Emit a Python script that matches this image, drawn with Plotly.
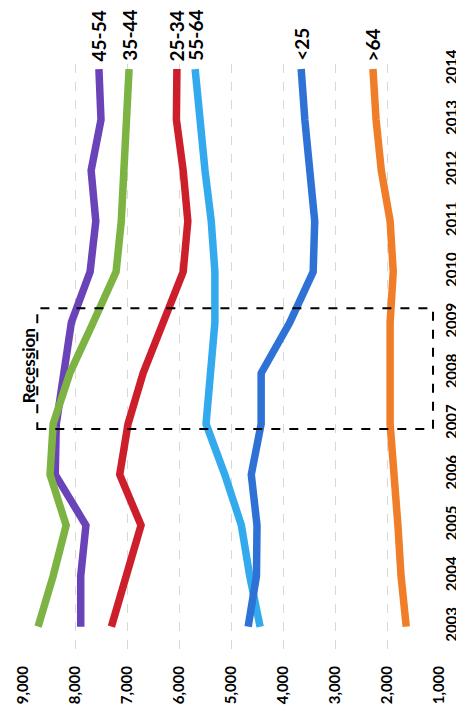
import plotly.graph_objects as go

years = list(range(2003, 2015))

age_groups = ['45-54', '35-44', '25-34', '55-64', '<25', '>64']
v_45_54 = [7890, 7890, 7790, 8380, 8360, 8200, 8070, 7710, 7600, 7690, 7500, 7540]
v_35_44 = [8710, 8420, 8170, 8480, 8420, 8100, 7650, 7210, 7110, 7060, 7020, 6960]
v_25_34 = [7300, 7020, 6730, 7140, 6980, 6690, 6300, 5920, 5830, 5920, 6050, 6040]
v_55_64 = [4440, 4640, 4800, 5120, 5480, 5380, 5310, 5310, 5380, 5500, 5600, 5690]
v_under25 = [4670, 4510, 4500, 4610, 4420, 4420, 3870, 3420, 3390, 3500, 3580, 3650]
v_over64 = [1630, 1730, 1790, 1880, 1940, 1940, 1940, 1880, 1940, 2110, 2210, 2270]

colors = ['#6a43b8', '#7cb342', '#cc1f2b', '#33aaee', '#2e72d6', '#f07e28']
value_ticks = [9000, 8000, 7000, 6000, 5000, 4000, 3000, 2000, 1000]

series = [v_45_54, v_35_44, v_25_34, v_55_64, v_under25, v_over64]
font_family = 'Lato, Open Sans, sans-serif'

fig = go.Figure()

# chart is drawn rotated: values run across, years run upward
for name, vals, col in zip(age_groups, series, colors):
    fig.add_trace(go.Scatter(x=vals, y=years, mode='lines', name=name,
                             line=dict(color=col, width=7.5)))
    fig.add_annotation(x=vals[-1], y=years[-1], text='<b>' + name + '</b>',
                       textangle=-90, showarrow=False, yanchor='bottom',
                       yshift=6, font=dict(size=19, color='black', family=font_family))

# recession box
fig.add_shape(type='rect', x0=8725, x1=1115, y0=2006.9, y1=2009.28,
              line=dict(color='black', width=2, dash='dash'))
fig.add_annotation(x=8890, y=2008.15, text='<b>Recession</b>', textangle=-90,
                   showarrow=False, font=dict(size=17, color='black', family=font_family))

fig.update_layout(
    width=464, height=728,
    margin=dict(l=15, r=33, t=56, b=84),
    plot_bgcolor='white', paper_bgcolor='white',
    showlegend=False,
    font=dict(family=font_family, color='black', size=15, weight='bold'),
)
fig.update_xaxes(range=[9000, 1000], tickvals=value_ticks, tickformat=',d',
                 tickangle=-90, showgrid=True, gridcolor='#d8d8d8', griddash='dash',
                 gridwidth=1, zeroline=False, showline=False, ticklabelstandoff=10,
                 automargin=False)
fig.update_yaxes(range=[2002.5, 2014.1], tickvals=years, tickangle=-90, side='right',
                 showgrid=False, zeroline=False, showline=False, ticklabelstandoff=2,
                 automargin=False)

fig.write_html("out.html")
